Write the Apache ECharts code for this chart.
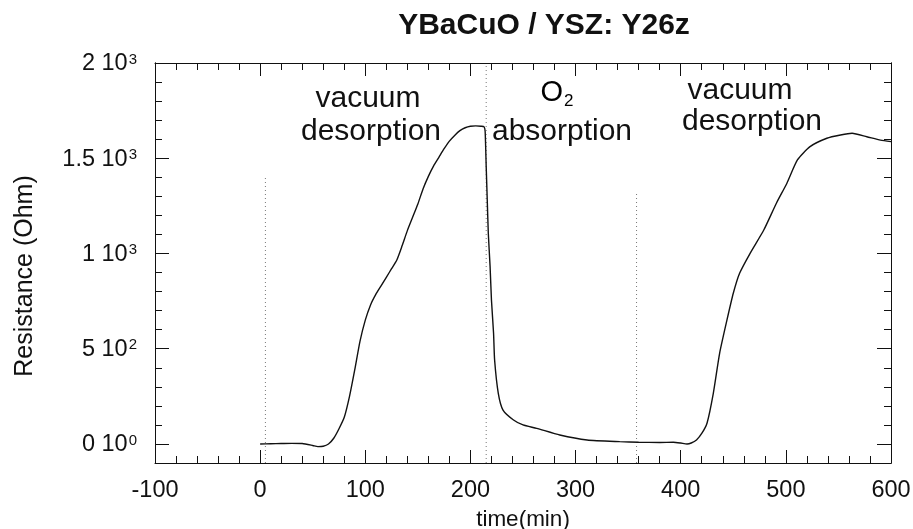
<!DOCTYPE html>
<html>
<head>
<meta charset="utf-8">
<script src="https://cdn.jsdelivr.net/npm/echarts@6/dist/echarts.min.js"></script>
<style>
  html, body { margin: 0; padding: 0; background: #fff; }
  #divChart { width: 913px; height: 529px; }
</style>
</head>
<body>
<div id="divChart"></div>
<script>
// 数据：时间(min) 与 电阻(Ohm)
var timeMin = [0, 10, 20, 30, 40, 50, 55, 60, 65, 70, 75, 80, 85, 90, 95, 100, 105, 110, 115, 120,
  125, 130, 135, 140, 145, 150, 155, 160, 165, 170, 175, 180, 185, 190, 195, 200, 205, 210, 213,
  214, 215, 216, 217, 218.7, 220, 222, 223, 226.5, 231, 241, 250, 263, 285, 311, 342, 360, 380, 393,
  400, 406, 410, 415, 420, 425, 431, 437, 444, 450, 456, 466, 479, 491, 501, 511, 523, 539, 552,
  563, 577, 590, 600];
var resistance = [0, 1, 2, 3, 2, -8, -14, -12, 0, 30, 80, 140, 250, 390, 540, 650, 730, 785, 830, 875,
  920, 966, 1040, 1120, 1190, 1260, 1340, 1405, 1460, 1505, 1550, 1590, 1620, 1645, 1660, 1668, 1670, 1668, 1665,
  1640, 1456, 1281, 1106, 931, 756, 581, 441, 266, 178, 126, 100, 82, 47, 21, 12, 9, 8, 9,
  5, 0, 5, 21, 55, 109, 266, 476, 651, 791, 896, 1001, 1123, 1264, 1369, 1491, 1561, 1605, 1622,
  1631, 1613, 1595, 1587];

// 虚线标记（时间、上端电阻）
var markerTimes = [5, 215, 358];
var markerTops = [1400, 2000, 1320];

// 坐标轴刻度
var yMajorTicks = [0, 500, 1000, 1500, 2000];
var yTickMantissa = ['0', '5', '1', '1.5', '2'];
var yTickExp = ['0', '2', '3', '3', '3'];

var FONT = '"Liberation Sans", Arial, Helvetica, sans-serif';
var INK = '#111';

var seriesData = [];
for (var i = 0; i < timeMin.length; i++) {
  seriesData.push([timeMin[i], resistance[i]]);
}

var markerSeries = [];
for (var m = 0; m < markerTimes.length; m++) {
  markerSeries.push({
    type: 'line',
    silent: true,
    symbol: 'none',
    data: [[markerTimes[m], -100], [markerTimes[m], markerTops[m]]],
    lineStyle: { color: '#777', width: 1, type: [1, 3] },
    z: 1
  });
}

function yLabel(value) {
  for (var k = 0; k < yMajorTicks.length; k++) {
    if (yMajorTicks[k] === value) {
      return '{b|' + yTickMantissa[k] + ' 10}{s|' + yTickExp[k] + '}';
    }
  }
  return '';
}

function baseY(pos, showLabel, major) {
  var ax = {
    type: 'value',
    position: pos,
    min: -100,
    max: 2000,
    interval: 100,
    splitLine: { show: false },
    axisLine: { show: true, onZero: false, lineStyle: { color: INK, width: 1 } },
    axisTick: { show: true, inside: true, length: major ? 14 : 7, lineStyle: { color: INK } },
    axisLabel: { show: false }
  };
  if (major) {
    ax.axisTick.customValues = yMajorTicks;
  }
  if (showLabel) {
    ax.axisLabel = {
      show: true,
      customValues: yMajorTicks,
      margin: 18,
      formatter: yLabel,
      rich: {
        b: { fontFamily: FONT, fontSize: 23.5, color: INK, lineHeight: 26, verticalAlign: 'bottom' },
        s: { fontFamily: FONT, fontSize: 15, color: INK, lineHeight: 15, verticalAlign: 'top', padding: [2, 0, 0, 1] }
      }
    };
  }
  return ax;
}

function baseX(pos, showLabel) {
  return {
    type: 'value',
    position: pos,
    min: -100,
    max: 600,
    interval: 100,
    splitLine: { show: false },
    axisLine: { show: true, onZero: false, lineStyle: { color: INK, width: 1 } },
    axisTick: { show: true, inside: true, length: 13, lineStyle: { color: INK } },
    minorTick: { show: true, splitNumber: 5, length: 7, lineStyle: { color: INK } },
    axisLabel: { show: showLabel, fontFamily: FONT, fontSize: 23.5, color: INK, margin: 16 },
    name: showLabel ? 'time(min)' : '',
    nameLocation: 'middle',
    nameGap: 42,
    nameTextStyle: { fontFamily: FONT, fontSize: 22.5, color: INK }
  };
}

var option = {
  backgroundColor: '#fff',
  animation: false,
  grid: { left: 155, right: 22, top: 63, bottom: 66, containLabel: false, outerBoundsMode: 'none' },
  xAxis: [baseX('bottom', true), baseX('top', false)],
  yAxis: [baseY('left', true, false), baseY('left', false, true), baseY('right', false, false), baseY('right', false, true)],
  series: [{
    type: 'line',
    name: 'R',
    data: seriesData,
    symbol: 'none',
    smooth: 0.2,
    lineStyle: { color: INK, width: 1.4 },
    z: 3
  }].concat(markerSeries),
  graphic: [
    { type: 'text', x: 544, y: 26, style: { text: 'YBaCuO / YSZ: Y26z', font: 'bold 30px ' + FONT, fill: INK, align: 'center', verticalAlign: 'middle', textAlign: 'center', textVerticalAlign: 'middle' } },
    { type: 'text', x: 25, y: 276, rotation: Math.PI / 2, style: { text: 'Resistance (Ohm)', font: '25px ' + FONT, fill: INK, align: 'center', verticalAlign: 'middle', textAlign: 'center', textVerticalAlign: 'middle' } },
    { type: 'text', x: 368, y: 99, style: { text: 'vacuum', font: '30px ' + FONT, fill: INK, align: 'center', verticalAlign: 'middle', textAlign: 'center', textVerticalAlign: 'middle' } },
    { type: 'text', x: 371, y: 132, style: { text: 'desorption', font: '30px ' + FONT, fill: INK, align: 'center', verticalAlign: 'middle', textAlign: 'center', textVerticalAlign: 'middle' } },
    { type: 'text', x: 557, y: 94, style: { text: '{o|O}{u|2}', align: 'center', verticalAlign: 'middle', textAlign: 'center', textVerticalAlign: 'middle',
        rich: { o: { fontFamily: FONT, fontSize: 29, color: INK, lineHeight: 32, verticalAlign: 'top' }, u: { fontFamily: FONT, fontSize: 17, color: INK, lineHeight: 17, verticalAlign: 'bottom', padding: [0, 0, 0, 1] } } } },
    { type: 'text', x: 562, y: 132, style: { text: 'absorption', font: '30px ' + FONT, fill: INK, align: 'center', verticalAlign: 'middle', textAlign: 'center', textVerticalAlign: 'middle' } },
    { type: 'text', x: 740, y: 91, style: { text: 'vacuum', font: '30px ' + FONT, fill: INK, align: 'center', verticalAlign: 'middle', textAlign: 'center', textVerticalAlign: 'middle' } },
    { type: 'text', x: 752, y: 122, style: { text: 'desorption', font: '30px ' + FONT, fill: INK, align: 'center', verticalAlign: 'middle', textAlign: 'center', textVerticalAlign: 'middle' } }
  ]
};

var divChart = echarts.init(document.getElementById('divChart'));
divChart.setOption(option);
</script>
</body>
</html>
